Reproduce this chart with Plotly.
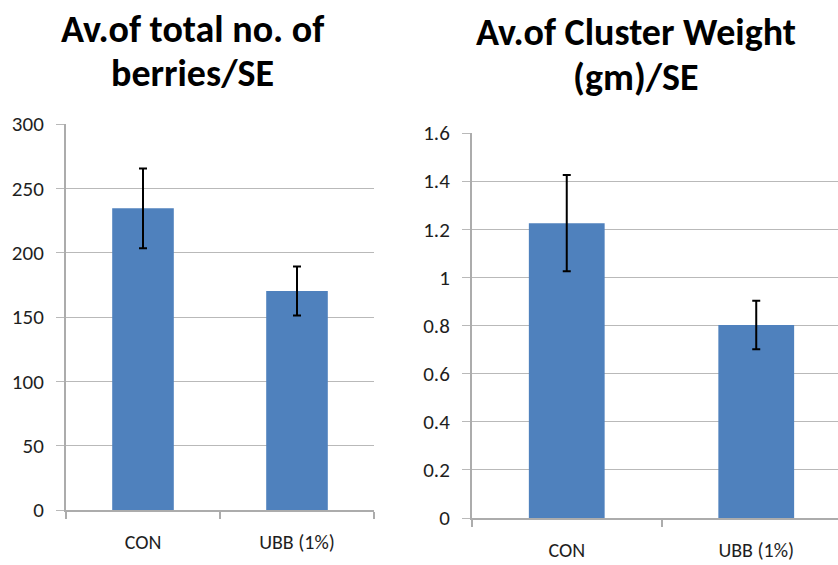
import plotly.graph_objects as go

categories = ["CON", "UBB (1%)"]
berries_mean = [234.5, 170.2]
berries_se = [31.0, 19.0]
weight_mean = [1.225, 0.802]
weight_se = [0.200, 0.101]
berries_ticks = [0, 50, 100, 150, 200, 250, 300]
weight_ticks = [0, 0.2, 0.4, 0.6, 0.8, 1.0, 1.2, 1.4, 1.6]
weight_ticktext = ["0", "0.2", "0.4", "0.6", "0.8", "1", "1.2", "1.4", "1.6"]
title_left = ["Av.of total no. of", "berries/SE"]
title_right = ["Av.of Cluster Weight", "(gm)/SE"]

W, H = 838, 565
FONT = "Carlito, Lato, sans-serif"
BAR = "#4F81BD"
GRID = "#b9b9b9"
AXIS = "#acacac"
TXT = "#1e1e1e"

fig = go.Figure()
fig.add_trace(go.Bar(
    x=categories, y=berries_mean, width=0.4, marker=dict(color=BAR, line=dict(width=0)),
    error_y=dict(type="data", array=berries_se, visible=True, color="black", thickness=2, width=4),
    xaxis="x", yaxis="y", showlegend=False))
fig.add_trace(go.Bar(
    x=categories, y=weight_mean, width=0.4, marker=dict(color=BAR, line=dict(width=0)),
    error_y=dict(type="data", array=weight_se, visible=True, color="black", thickness=2, width=4),
    xaxis="x2", yaxis="y2", showlegend=False))

def px_x(v):
    return v / W

def px_y(v):
    return 1 - v / H

xcommon = dict(type="category", showgrid=False, zeroline=False, showline=True,
               linecolor=AXIS, linewidth=2, ticks="outside", tickson="boundaries",
               ticklen=7, tickcolor=AXIS, tickwidth=1.5, ticklabelstandoff=13,
               tickfont=dict(family=FONT, size=20, color=TXT), fixedrange=True,
               automargin=False)
ycommon = dict(showgrid=True, gridcolor=GRID, gridwidth=1.2, zeroline=False, showline=True,
               linecolor=AXIS, linewidth=2, ticks="outside", ticklen=8, tickcolor=GRID,
               tickwidth=1.2, ticklabelstandoff=8,
               tickfont=dict(family=FONT, size=21, color=TXT), fixedrange=True,
               automargin=False)

fig.update_layout(
    width=W, height=H, margin=dict(l=0, r=0, t=0, b=0, autoexpand=False),
    paper_bgcolor="white", plot_bgcolor="white", bargap=0.6,
    xaxis=dict(domain=[px_x(66), px_x(374)], anchor="y", range=[-0.5, 1.5], **xcommon),
    yaxis=dict(domain=[px_y(510), px_y(124)], anchor="x", range=[0, 300],
               tickvals=berries_ticks, **ycommon),
    xaxis2=dict(domain=[px_x(472), 1.0], anchor="y2", range=[-0.5, 1.5 - 13 / 189.6], **xcommon),
    yaxis2=dict(domain=[px_y(518), px_y(133)], anchor="x2", range=[0, 1.6],
                tickvals=weight_ticks, ticktext=weight_ticktext, **ycommon),
)

annots = []
for i, line in enumerate(title_left):
    annots.append(dict(text="<b>%s</b>" % line, x=px_x(192), y=px_y(29 + 44 * i),
                       xref="paper", yref="paper", xanchor="center", yanchor="middle",
                       showarrow=False, font=dict(family=FONT, size=38, color="black")))
for i, line in enumerate(title_right):
    annots.append(dict(text="<b>%s</b>" % line, x=px_x(636), y=px_y(32 + 45 * i),
                       xref="paper", yref="paper", xanchor="center", yanchor="middle",
                       showarrow=False, font=dict(family=FONT, size=38, color="black")))
fig.update_layout(annotations=annots)

fig.write_html("out.html", config={"displayModeBar": False},
               post_script="document.body.style.margin='0';document.body.style.overflow='hidden';")
